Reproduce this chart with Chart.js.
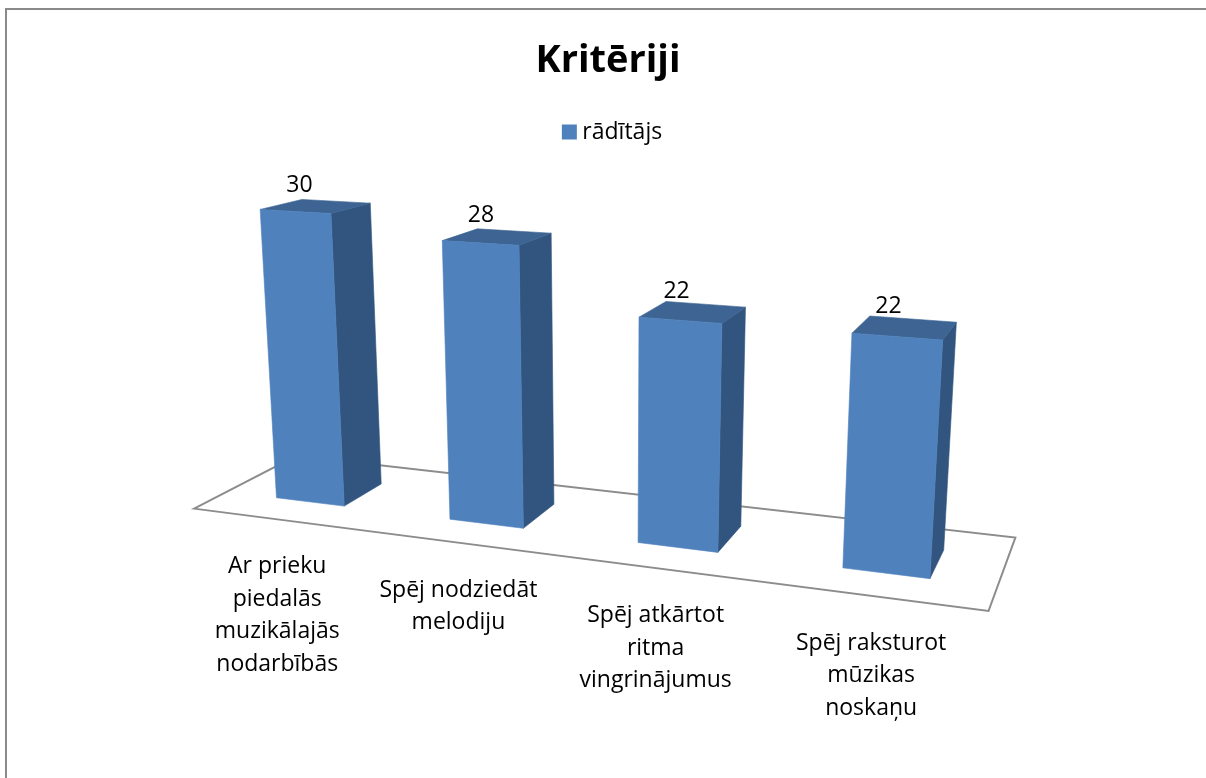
<!DOCTYPE html>
<html><head><meta charset="utf-8">
<script src="https://cdn.jsdelivr.net/npm/chart.js@4"></script>
<style>html,body{margin:0;padding:0;background:#fff;overflow:hidden;width:1206px;height:778px}
#frame{position:absolute;left:5px;top:8px;width:1400px;height:1000px;border:2px solid #8a8a8a}
canvas{position:absolute;left:0;top:0}</style>
</head><body><div id="frame"></div><canvas id="c" width="1206" height="778"></canvas>
<script>
const categories=[['Ar prieku','piedalās','muzikālajās','nodarbībās'],['Spēj nodziedāt','melodiju'],['Spēj atkārtot','ritma','vingrinājumus'],['Spēj raksturot','mūzikas','noskaņu']];
const values=[30,28,22,22];
const seriesName='rādītājs';
// camera: (category position, value, depth) -> page
const P=[159.2576,-0.9634883,135.2785,194.0349,1.265413,-10.14343,-2.155712,508.6267,-0.03982285,-0.001567275,0.1109984];
const barFrac=.4,W0=.3,W1=.7;
const proj=(u,v,w)=>{const d=P[8]*u+P[9]*v+P[10]*w+1;return [(P[0]*u+P[1]*v+P[2]*w+P[3])/d,(P[4]*u+P[5]*v+P[6]*w+P[7])/d];};
const poly=(ctx,pts,fill)=>{ctx.beginPath();pts.forEach((p,i)=>i?ctx.lineTo(p[0],p[1]):ctx.moveTo(p[0],p[1]));ctx.closePath();ctx.fillStyle=fill;ctx.fill();ctx.strokeStyle=fill;ctx.lineWidth=.6;ctx.stroke();};
const persp={id:'persp',
 afterLayout(chart){chart.legend.left+=7;chart.legend.right+=7;},
 beforeDraw(chart){
  const sx=chart.scales.x,ctx=chart.ctx;
  sx.getLabelItems(chart.chartArea).forEach((it,i)=>{const q=proj(i+.5,0,0);it.options.translation=[q[0]-2,q[1]+19.5];it.options.textBaseline='top';});
  const f=[proj(0,0,0),proj(4,0,0),proj(4,0,1),proj(0,0,1)];
  ctx.save();ctx.beginPath();f.forEach((p,i)=>i?ctx.lineTo(p[0],p[1]):ctx.moveTo(p[0],p[1]));ctx.closePath();ctx.strokeStyle='#8c8c8c';ctx.lineWidth=2;ctx.stroke();ctx.restore();
 },
 beforeDatasetsDraw(chart){
  const sx=chart.scales.x,sy=chart.scales.y,U=px=>(px-sx.left)/sx.width*4;
  chart.getDatasetMeta(0).data.forEach(el=>{el.draw=function(ctx){
   const l=U(this.x-this.width/2),r=U(this.x+this.width/2),t=sy.getValueForPixel(this.y),o=sy.getValueForPixel(this.base);
   ctx.save();
   poly(ctx,[proj(r,o,W0),proj(r,o,W1),proj(r,t,W1),proj(r,t,W0)],'#32557f');
   poly(ctx,[proj(l,t,W0),proj(r,t,W0),proj(r,t,W1),proj(l,t,W1)],'#3d6492');
   poly(ctx,[proj(l,o,W0),proj(r,o,W0),proj(r,t,W0),proj(l,t,W0)],this.options.backgroundColor);
   ctx.restore();
  };});
 },
 afterDatasetsDraw(chart){
  const sx=chart.scales.x,U=px=>(px-sx.left)/sx.width*4,ctx=chart.ctx;
  ctx.save();ctx.font='23px "Open Sans"';ctx.fillStyle='#000';ctx.textAlign='center';ctx.textBaseline='middle';
  chart.getDatasetMeta(0).data.forEach((el,i)=>{const q=proj(U(el.x),values[i],(W0+W1)/2);ctx.fillText(String(values[i]),q[0]-16.5,q[1]-21);});
  ctx.restore();
 }};
new Chart(document.getElementById('c'),{type:'bar',
 data:{labels:categories,datasets:[{label:seriesName,data:values,backgroundColor:'#4f81bd',barPercentage:barFrac,categoryPercentage:1,clip:false}]},
 options:{responsive:false,animation:false,layout:{padding:{left:10,top:14}},
  plugins:{title:{display:true,text:'Kritēriji',color:'#000',font:{family:'"Open Sans"',size:38,weight:'bold'},padding:{top:24,bottom:29}},
   legend:{position:'top',labels:{color:'#000',font:{family:'"Open Sans"',size:23},boxWidth:3,boxHeight:3,padding:8,
     generateLabels:()=>[{text:seriesName,fillStyle:'#4f81bd',strokeStyle:'#4f81bd',lineWidth:12,datasetIndex:0}]}},tooltip:{enabled:false}},
  scales:{x:{grid:{display:false},border:{display:false},afterFit(s){s.height=250;},ticks:{color:'#000',autoSkip:false,maxRotation:0,font:{family:'"Open Sans"',size:23,lineHeight:1.41}}},
   y:{display:false,min:0,max:35}}},
 plugins:[persp]});
</script></body></html>
